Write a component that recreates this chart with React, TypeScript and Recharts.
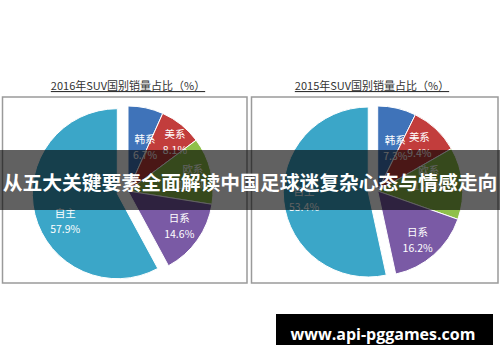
import React from 'react';
import { PieChart, Pie, Cell } from 'recharts';

const categories = ['韩系', '美系', '欧系', '日系', '自主'];
const share2016 = [6.7, 8.1, 12.7, 14.6, 57.9];
const share2015 = [7.3, 9.4, 13.7, 16.2, 53.4];
const titles = ['2016年SUV国别销量占比（%）', '2015年SUV国别销量占比（%）'];
const bannerText = '从五大关键要素全面解读中国足球迷复杂心态与情感走向';
const watermark = 'www.api-pggames.com';

const COLORS = ['#3f73b9', '#c23d3c', '#8fc04a', '#7a5aa5', '#3ba6c8'];
const EXPLODED = 4;
const FONT = '"Noto Sans CJK SC", "Noto Sans", sans-serif';
const RAD = Math.PI / 180;
const R = 85;

// label layout tweaks (radius fraction, clockwise angle nudge in degrees)
const labelLayout2016 = [
  [0.56, 9], [0.8, 5], [0.78, 2], [0.73, -1], [0.69, -13],
];
const labelLayout2015 = [
  [0.55, 9], [0.73, -1], [0.62, -9], [0.74, 2], [0.76, 0],
];

const build = (vals: number[]) => categories.map((name, i) => ({ name, value: vals[i] }));

function explodeOffset(vals: number[], idx: number, dist: number) {
  const total = vals.reduce((a, b) => a + b, 0);
  const before = vals.slice(0, idx).reduce((a, b) => a + b, 0);
  const mid = ((before + vals[idx] / 2) / total) * 360; // clockwise from top
  return { dx: dist * Math.sin(mid * RAD), dy: -dist * Math.cos(mid * RAD) };
}

function makeLabel(layout: number[][], only: 'main' | 'exploded') {
  return (props: any) => {
    const { cx, cy, midAngle, outerRadius, index, payload } = props;
    const isExp = index === EXPLODED;
    if ((only === 'main' && isExp) || (only === 'exploded' && !isExp)) return null;
    const [f, nudge] = layout[index];
    const a = midAngle - nudge;
    const r = outerRadius * f;
    const x = cx + r * Math.cos(-a * RAD);
    const y = cy + r * Math.sin(-a * RAD);
    const name = payload?.name ?? categories[index];
    const value = payload?.value ?? props.value;
    return (
      <g>
        <text x={x} y={y - 4} textAnchor="middle" fill="#fff" fontSize={10.5} fontFamily={FONT}>
          {name}
        </text>
        <text x={x} y={y + 12} textAnchor="middle" fill="#fff" fontSize={10.5} fontFamily={FONT}>
          {value.toFixed(1)}%
        </text>
      </g>
    );
  };
}

function PiePair({ vals, cx, cy, dist, layout }: any) {
  const data = build(vals);
  const { dx, dy } = explodeOffset(vals, EXPLODED, dist);
  return [
    <Pie
      key="main"
      data={data}
      dataKey="value"
      nameKey="name"
      cx={cx}
      cy={cy}
      outerRadius={R}
      startAngle={90}
      endAngle={-270}
      isAnimationActive={false}
      labelLine={false}
      label={makeLabel(layout, 'main')}
    >
      {data.map((d, i) => (
        <Cell
          key={d.name}
          fill={i === EXPLODED ? 'transparent' : COLORS[i]}
          stroke={i === EXPLODED ? 'none' : '#fff'}
          strokeWidth={1}
        />
      ))}
    </Pie>,
    <Pie
      key="exp"
      data={data}
      dataKey="value"
      nameKey="name"
      cx={cx + dx}
      cy={cy + dy}
      outerRadius={R}
      startAngle={90}
      endAngle={-270}
      isAnimationActive={false}
      labelLine={false}
      label={makeLabel(layout, 'exploded')}
    >
      {data.map((d, i) => (
        <Cell
          key={d.name}
          fill={i === EXPLODED ? COLORS[i] : 'transparent'}
          stroke={i === EXPLODED ? '#fff' : 'none'}
          strokeWidth={1}
        />
      ))}
    </Pie>,
  ];
}

export default function App() {
  return (
    <div style={{ position: 'fixed', left: 0, top: 0, width: 500, height: 362, background: '#fff', overflow: 'hidden' }}>
      <svg width={500} height={362} style={{ position: 'absolute', left: 0, top: 0 }}>
        <rect x={2.5} y={97} width={244.5} height={186} fill="#fff" stroke="#9a9a9a" strokeWidth={1.5} />
        <rect x={251.5} y={97} width={246.5} height={186} fill="#fff" stroke="#9a9a9a" strokeWidth={1.5} />
        <text x={128} y={90} textAnchor="middle" fontSize={11} fill="#333" fontFamily={FONT} style={{ textDecoration: 'underline' }}>
          {titles[0]}
        </text>
        <text x={372} y={90} textAnchor="middle" fontSize={11} fill="#333" fontFamily={FONT} style={{ textDecoration: 'underline' }}>
          {titles[1]}
        </text>
      </svg>
      <div style={{ position: 'absolute', left: 0, top: 0 }}>
        <PieChart width={500} height={362} margin={{ top: 0, right: 0, bottom: 0, left: 0 }}>
          {PiePair({ vals: share2016, cx: 128, cy: 191, dist: 11, layout: labelLayout2016 })}
          {PiePair({ vals: share2015, cx: 377.7, cy: 191, dist: 9.5, layout: labelLayout2015 })}
        </PieChart>
      </div>
      <svg width={500} height={362} style={{ position: 'absolute', left: 0, top: 0 }}>
        <rect x={0} y={150} width={500} height={60} fill="rgba(0,0,0,0.62)" />
        <text x={250} y={190} textAnchor="middle" fontSize={19.8} fontWeight={700} fill="#fff" fontFamily={FONT}>
          {bannerText}
        </text>
        <rect x={276} y={314} width={217} height={31} fill="#000" />
        <text x={383} y={340} textAnchor="middle" fontSize={16} fontWeight={700} fill="#fff" fontFamily='"Open Sans", sans-serif'>
          {watermark}
        </text>
      </svg>
    </div>
  );
}
